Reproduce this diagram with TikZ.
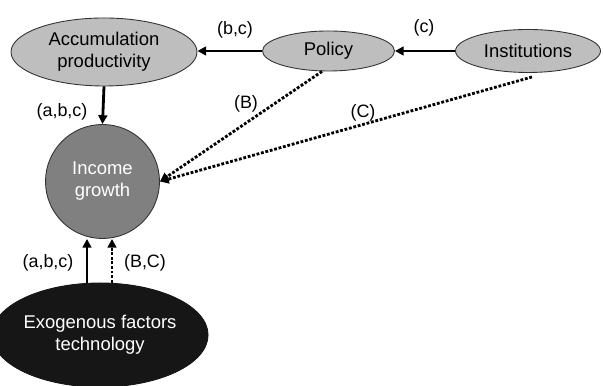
\documentclass[tikz,border=0pt]{standalone}
\usepackage{fontspec}
\setmainfont{Liberation Sans}
\usetikzlibrary{arrows.meta,shapes.geometric}
\definecolor{lightgrey}{RGB}{190,190,190}
\definecolor{midgrey}{RGB}{128,128,128}
\definecolor{darkfill}{RGB}{22,22,22}
\begin{document}
\begin{tikzpicture}[
    factor/.style={ellipse, draw=black!80, line width=0.5pt, fill=lightgrey, inner sep=0pt, align=center, font=\fontsize{10.5}{12.5}\selectfont},
    arr/.style={-{Triangle[length=5pt,width=5pt]}, line width=1.6pt},
    dotarr/.style={-{Triangle[length=5pt,width=5pt]}, line width=1.6pt, densely dotted},
    lbl/.style={font=\fontsize{10.2}{12}\selectfont}
  ]
    \useasboundingbox (0,0) rectangle (12.06,7.72);
    \node[factor, minimum width=3.72cm, minimum height=1.36cm] (accum) at (2.08,6.68) {Accumulation\\productivity};
    \node[factor, minimum width=2.64cm, minimum height=0.8cm] (policy) at (6.57,6.7) {Policy};
    \node[factor, minimum width=2.9cm, minimum height=0.86cm] (inst) at (10.56,6.7) {Institutions};
    \node[factor, circle, fill=midgrey, text=white, minimum size=2.28cm] (income) at (2.05,4.09) {Income\\growth};
    \node[factor, fill=darkfill, draw=darkfill, text=white, minimum width=3.76cm, minimum height=2.08cm] (exo) at (2.0,1.02) {Exogenous factors\\technology};
    \coordinate (instfoot) at (10.64,6.18);
    % solid channels
    \draw[arr] (policy.west) -- (policy.west -| accum.east);
    \draw[arr] (inst.west) -- (policy.east);
    \draw[arr] (accum.south) -- (income.north);
    \draw[arr] ([xshift=-0.26cm]exo.north) -- ([xshift=-0.26cm]exo.north |- income.south);
    % dotted channels
    \draw[dotarr] ([xshift=-0.13cm]policy.south) -- (income.east);
    \draw[dotarr] (instfoot) -- (income.east);
    \draw[dotarr] ([xshift=0.24cm]exo.north) -- ([xshift=0.24cm]exo.north |- income.south);
    % labels
    \node[lbl] (l1) at (1.24,5.48) {(a,b,c)};
    \node[lbl] (l2) at (4.7,7.12) {(b,c)};
    \node[lbl] (l3) at (8.48,7.16) {(c)};
    \node[lbl] (l4) at (4.92,5.64) {(B)};
    \node[lbl] (l5) at (7.26,5.46) {(C)};
    \node[lbl] (l6) at (0.96,2.46) {(a,b,c)};
    \node[lbl] (l7) at (2.9,2.46) {(B,C)};
\end{tikzpicture}
\end{document}
